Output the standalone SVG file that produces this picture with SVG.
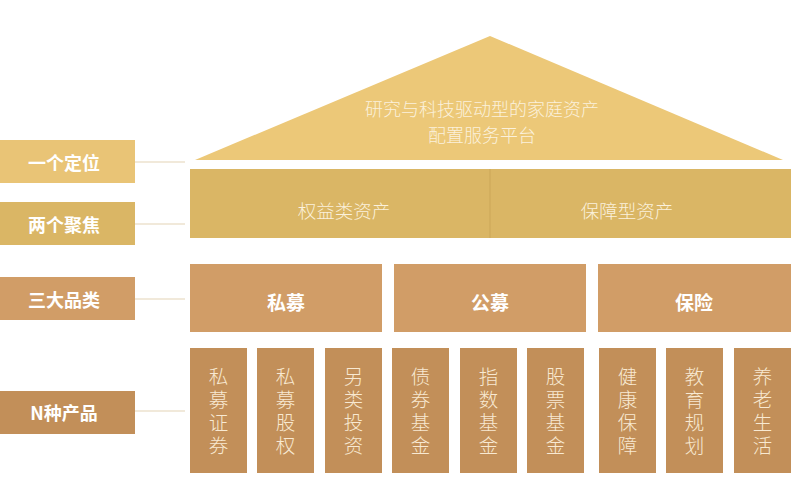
<svg xmlns="http://www.w3.org/2000/svg" width="800" height="500" viewBox="0 0 800 500">
  <style>
    .lbl { font-family: "Noto Sans CJK SC", "Noto Sans", sans-serif; font-size: 18px; font-weight: bold; fill: #ffffff; text-anchor: middle; dominant-baseline: central; }
    .thin { font-family: "Noto Sans CJK SC", "Noto Sans", sans-serif; font-size: 18.5px; font-weight: 300; fill: #fbf1dc; text-anchor: middle; dominant-baseline: central; }
    .roof { font-family: "Noto Sans CJK SC", "Noto Sans", sans-serif; font-size: 18px; font-weight: 300; fill: #fbf1dc; text-anchor: middle; dominant-baseline: central; }
    .cat { font-family: "Noto Sans CJK SC", "Noto Sans", sans-serif; font-size: 19px; font-weight: bold; fill: #ffffff; text-anchor: middle; dominant-baseline: central; }
    .vt { font-family: "Noto Sans CJK SC", "Noto Sans", sans-serif; font-size: 19.5px; font-weight: 300; fill: #f8e9d2; text-anchor: middle; writing-mode: vertical-rl; letter-spacing: 3.5px; }
    .conn { stroke: #e3d3b5; stroke-width: 1.2; fill: none; }
    .c1 { fill: #e9c476; }
    .c2 { fill: #dab665; }
    .c3 { fill: #d19d67; }
    .c4 { fill: #c28f59; }
  </style>
  <rect width="800" height="500" fill="#ffffff"/>

  <g id="connectors">
    <line class="conn" x1="135" y1="162" x2="185" y2="162"/>
    <line class="conn" x1="135" y1="224" x2="185" y2="224"/>
    <line class="conn" x1="135" y1="299" x2="185" y2="299"/>
    <line class="conn" x1="135" y1="411" x2="185" y2="411"/>
  </g>

  <g id="label-1">
    <rect class="c1" x="0" y="140" width="135" height="43"/>
    <text class="lbl" x="64" y="162">一个定位</text>
  </g>
  <g id="label-2">
    <rect class="c2" x="0" y="202" width="135" height="43"/>
    <text class="lbl" x="64" y="224">两个聚焦</text>
  </g>
  <g id="label-3">
    <rect class="c3" x="0" y="277" width="135" height="43"/>
    <text class="lbl" x="64" y="299">三大品类</text>
  </g>
  <g id="label-4">
    <rect class="c4" x="0" y="391" width="135" height="43"/>
    <text class="lbl" x="64" y="412">N种产品</text>
  </g>

  <g id="roof">
    <polygon fill="#ecc878" points="490,36 195,160 783,160"/>
    <text class="roof"><tspan x="482" y="108">研究与科技驱动型的家庭资产</tspan><tspan x="482" y="134">配置服务平台</tspan></text>
  </g>

  <g id="band">
    <rect class="c2" x="190" y="169" width="601" height="69"/>
    <line x1="490" y1="169" x2="490" y2="238" stroke="#cba658" stroke-width="1"/>
    <text class="thin" x="344" y="210">权益类资产</text>
    <text class="thin" x="627" y="210">保障型资产</text>
  </g>

  <g id="cat-simu">
    <rect class="c3" x="190" y="264" width="192" height="68"/>
    <text class="cat" x="286" y="301">私募</text>
  </g>
  <g id="cat-gongmu">
    <rect class="c3" x="394" y="264" width="192" height="68"/>
    <text class="cat" x="490" y="301">公募</text>
  </g>
  <g id="cat-baoxian">
    <rect class="c3" x="598" y="264" width="193" height="68"/>
    <text class="cat" x="694" y="301">保险</text>
  </g>

  <g id="p1">
    <rect class="c4" x="190" y="348" width="57" height="125"/>
    <text class="vt" x="218.5" y="413">私募证券</text>
  </g>
  <g id="p2">
    <rect class="c4" x="257" y="348" width="57" height="125"/>
    <text class="vt" x="285.5" y="413">私募股权</text>
  </g>
  <g id="p3">
    <rect class="c4" x="325" y="348" width="57" height="125"/>
    <text class="vt" x="353.5" y="413">另类投资</text>
  </g>
  <g id="p4">
    <rect class="c4" x="392" y="348" width="57" height="125"/>
    <text class="vt" x="420.5" y="413">债券基金</text>
  </g>
  <g id="p5">
    <rect class="c4" x="460" y="348" width="57" height="125"/>
    <text class="vt" x="488.5" y="413">指数基金</text>
  </g>
  <g id="p6">
    <rect class="c4" x="527" y="348" width="57" height="125"/>
    <text class="vt" x="555.5" y="413">股票基金</text>
  </g>
  <g id="p7">
    <rect class="c4" x="599" y="348" width="57" height="125"/>
    <text class="vt" x="627.5" y="413">健康保障</text>
  </g>
  <g id="p8">
    <rect class="c4" x="666" y="348" width="57" height="125"/>
    <text class="vt" x="694.5" y="413">教育规划</text>
  </g>
  <g id="p9">
    <rect class="c4" x="734" y="348" width="57" height="125"/>
    <text class="vt" x="762.5" y="413">养老生活</text>
  </g>
</svg>
